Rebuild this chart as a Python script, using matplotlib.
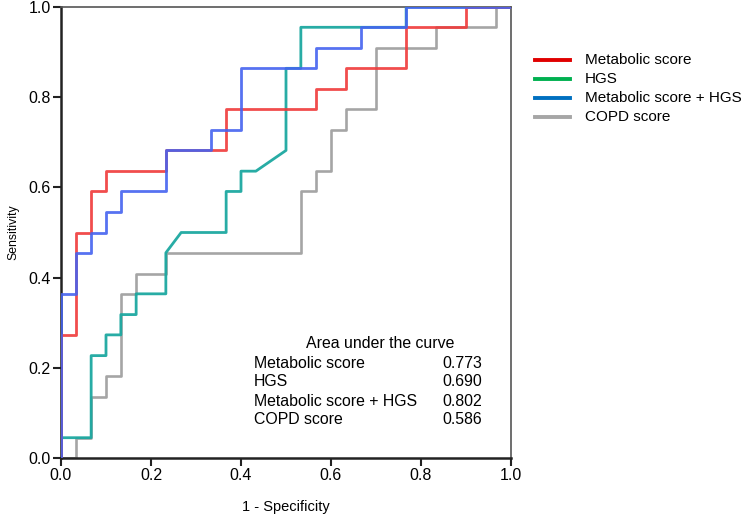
import matplotlib
matplotlib.use("Agg")
import matplotlib.pyplot as plt
from matplotlib.lines import Line2D

plt.rcParams['font.family'] = ['Liberation Sans', 'DejaVu Sans']

# ROC curves: (1 - specificity, sensitivity) vertices
met_x = [0, 0, 0.033, 0.033, 0.067, 0.067, 0.100, 0.100, 0.233, 0.233, 0.367, 0.367, 0.567, 0.567, 0.633, 0.633, 0.767, 0.767, 0.900, 0.900, 1.0]
met_y = [0, 0.273, 0.273, 0.500, 0.500, 0.591, 0.591, 0.636, 0.636, 0.682, 0.682, 0.773, 0.773, 0.818, 0.818, 0.864, 0.864, 0.955, 0.955, 1.0, 1.0]

hgs_x = [0, 0, 0.067, 0.067, 0.100, 0.100, 0.133, 0.133, 0.167, 0.167, 0.233, 0.233, 0.267, 0.367, 0.367, 0.400, 0.400, 0.433, 0.500, 0.500, 0.533, 0.533, 0.767, 0.767, 1.0]
hgs_y = [0, 0.045, 0.045, 0.227, 0.227, 0.273, 0.273, 0.318, 0.318, 0.364, 0.364, 0.455, 0.500, 0.500, 0.591, 0.591, 0.636, 0.636, 0.682, 0.864, 0.864, 0.955, 0.955, 1.0, 1.0]

comb_x = [0, 0, 0.033, 0.033, 0.067, 0.067, 0.100, 0.100, 0.133, 0.133, 0.233, 0.233, 0.333, 0.333, 0.400, 0.400, 0.567, 0.567, 0.667, 0.667, 0.767, 0.767, 1.0]
comb_y = [0, 0.364, 0.364, 0.455, 0.455, 0.500, 0.500, 0.545, 0.545, 0.591, 0.591, 0.682, 0.682, 0.727, 0.727, 0.864, 0.864, 0.909, 0.909, 0.955, 0.955, 1.0, 1.0]

copd_x = [0, 0.033, 0.033, 0.067, 0.067, 0.100, 0.100, 0.133, 0.133, 0.167, 0.167, 0.233, 0.233, 0.533, 0.533, 0.567, 0.567, 0.600, 0.600, 0.633, 0.633, 0.700, 0.700, 0.833, 0.833, 0.967, 0.967, 1.0]
copd_y = [0, 0, 0.045, 0.045, 0.136, 0.136, 0.182, 0.182, 0.364, 0.364, 0.409, 0.409, 0.455, 0.455, 0.591, 0.591, 0.636, 0.636, 0.727, 0.727, 0.773, 0.773, 0.909, 0.909, 0.955, 0.955, 1.0, 1.0]

series_names = ["Metabolic score", "HGS", "Metabolic score + HGS", "COPD score"]
auc_values = ["0.773", "0.690", "0.802", "0.586"]
ticks = [0.0, 0.2, 0.4, 0.6, 0.8, 1.0]

fig = plt.figure(figsize=(7.5, 5.18), dpi=100)
ax = fig.add_axes([61/750, 60/518, 450/750, 451/518])

ax.plot(copd_x, copd_y, color='#a0a0a0', lw=1.9, alpha=0.95, zorder=2)
ax.plot(hgs_x, hgs_y, color='#1ca8a0', lw=2.0, alpha=0.95, zorder=3)
ax.plot(met_x, met_y, color='#f03a3a', lw=2.0, alpha=0.9, zorder=4)
ax.plot(comb_x, comb_y, color='#4563f0', lw=2.0, alpha=0.9, zorder=5)

ax.set_xlim(0, 1)
ax.set_ylim(0, 1)
ax.set_xticks(ticks)
ax.set_yticks(ticks)
ax.set_xticklabels([f"{t:.1f}" for t in ticks], fontsize=11.5)
ax.set_yticklabels([f"{t:.1f}" for t in ticks], fontsize=11.5)
ax.tick_params(direction='out', length=6, width=1.5, color='#222222', pad=1.5)

for s in ['left', 'bottom']:
    ax.spines[s].set_linewidth(1.8)
    ax.spines[s].set_color('#222222')
for s in ['top', 'right']:
    ax.spines[s].set_linewidth(1.2)
    ax.spines[s].set_color('#555555')

ax.set_xlabel("1 - Specificity", fontsize=10.5, labelpad=12)
ax.set_ylabel("Sensitivity", fontsize=8.8, labelpad=6)

# AUC table
fig.text(380/750, 1 - 343/518, "Area under the curve", fontsize=11.4, ha='center', va='center')
for i, (n, v) in enumerate(zip(series_names, auc_values)):
    y = 1 - (363 + 19 * i) / 518
    fig.text(254/750, y, n, fontsize=11.4, ha='left', va='center')
    fig.text(482/750, y, v, fontsize=11.4, ha='right', va='center')

# Legend
leg_colors = ['#e00000', '#00b050', '#0070c0', '#a6a6a6']
for i, (n, c) in enumerate(zip(series_names, leg_colors)):
    y = 1 - (60 + 19 * i) / 518
    fig.add_artist(Line2D([535/750, 570/750], [y, y], color=c, lw=2.8))
    fig.text(585/750, y, n, fontsize=11, ha='left', va='center')

fig.savefig("out.png", dpi=100)
